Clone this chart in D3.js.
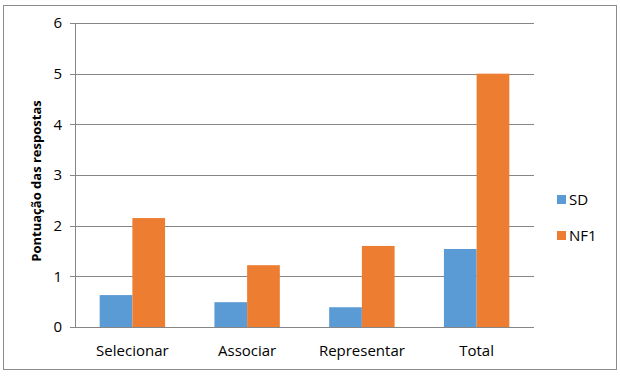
<!DOCTYPE html>
<html>
<head>
<meta charset="utf-8">
<script src="https://cdn.jsdelivr.net/npm/d3@7"></script>
<style>
  body { margin: 0; background: #fff; }
  text { font-family: "Open Sans", "Liberation Sans", sans-serif; fill: #000; }
</style>
</head>
<body>
<div id="chart"></div>
<script>
// chart data
var categories = ["Selecionar", "Associar", "Representar", "Total"];
var seriesNames = ["SD", "NF1"];
var sdValues = [0.63, 0.49, 0.39, 1.54];
var nf1Values = [2.15, 1.22, 1.6, 5.0];
var yTicks = [0, 1, 2, 3, 4, 5, 6];
var colors = ["#5B9BD5", "#ED7D31"];

var width = 620, height = 376;
var margin = { top: 23, right: 86, bottom: 49, left: 75 };
var innerW = width - margin.left - margin.right,
    innerH = height - margin.top - margin.bottom;

var svg = d3.select("#chart")
    .append("svg")
    .attr("width", width)
    .attr("height", height);

// outer border
svg.append("rect")
    .attr("x", 3.5).attr("y", 5.5)
    .attr("width", 613).attr("height", 364)
    .attr("fill", "none")
    .attr("stroke", "#8c8c8c")
    .attr("stroke-width", 1);

var g = svg.append("g")
    .attr("transform", "translate(" + margin.left + "," + margin.top + ")");

var x = d3.scaleBand()
    .domain(categories)
    .range([0, innerW])
    .paddingInner(0.43)
    .paddingOuter(0.215);

var xSub = d3.scaleBand()
    .domain(seriesNames)
    .range([0, x.bandwidth()]);

var y = d3.scaleLinear()
    .domain([0, 6])
    .range([innerH, 0]);

// gridlines
g.selectAll(".grid")
    .data(yTicks)
    .enter()
    .append("line")
    .attr("x1", -5)
    .attr("x2", innerW)
    .attr("y1", d => Math.round(y(d)) + 0.5)
    .attr("y2", d => Math.round(y(d)) + 0.5)
    .attr("stroke", "#868686")
    .attr("stroke-width", 1);

// y axis line
g.append("line")
    .attr("x1", 0.5).attr("x2", 0.5)
    .attr("y1", 0).attr("y2", innerH)
    .attr("stroke", "#868686");

// y tick labels
g.selectAll(".ylabel")
    .data(yTicks)
    .enter()
    .append("text")
    .attr("x", -13)
    .attr("y", d => y(d))
    .attr("dy", "0.35em")
    .attr("text-anchor", "end")
    .style("font-size", "15px")
    .text(d => d);

var data = categories.map((c, i) => ({ category: c, values: [sdValues[i], nf1Values[i]] }));

var groups = g.selectAll(".group")
    .data(data)
    .enter()
    .append("g")
    .attr("transform", d => "translate(" + x(d.category) + ",0)");

groups.selectAll("rect")
    .data(d => d.values.map((v, i) => ({ name: seriesNames[i], value: v, idx: i })))
    .enter()
    .append("rect")
    .attr("x", d => xSub(d.name))
    .attr("width", xSub.bandwidth())
    .attr("y", d => y(d.value))
    .attr("height", d => innerH - y(d.value))
    .attr("fill", d => colors[d.idx]);

// redraw baseline over bars
g.append("line")
    .attr("x1", -5).attr("x2", innerW)
    .attr("y1", Math.round(y(0)) + 0.5).attr("y2", Math.round(y(0)) + 0.5)
    .attr("stroke", "#868686");

// x labels
g.selectAll(".xlabel")
    .data(categories)
    .enter()
    .append("text")
    .attr("x", d => x(d) + x.bandwidth() / 2)
    .attr("y", innerH + 29)
    .attr("text-anchor", "middle")
    .style("font-size", "15px")
    .text(d => d);

// y axis title
svg.append("text")
    .attr("transform", "translate(41," + (margin.top + innerH / 2 + 6) + ")rotate(-90)")
    .attr("text-anchor", "middle")
    .style("font-size", "13px")
    .style("font-weight", "bold")
    .text("Pontuação das respostas");

// legend
var legend = svg.selectAll(".legend")
    .data(seriesNames)
    .enter()
    .append("g")
    .attr("transform", (d, i) => "translate(557," + (200 + i * 36) + ")");

legend.append("rect")
    .attr("x", 0)
    .attr("y", -5)
    .attr("width", 9)
    .attr("height", 9)
    .attr("fill", (d, i) => colors[i]);

legend.append("text")
    .attr("x", 12)
    .attr("y", 0)
    .attr("dy", "0.35em")
    .style("font-size", "15px")
    .text(d => d);
</script>
</body>
</html>
